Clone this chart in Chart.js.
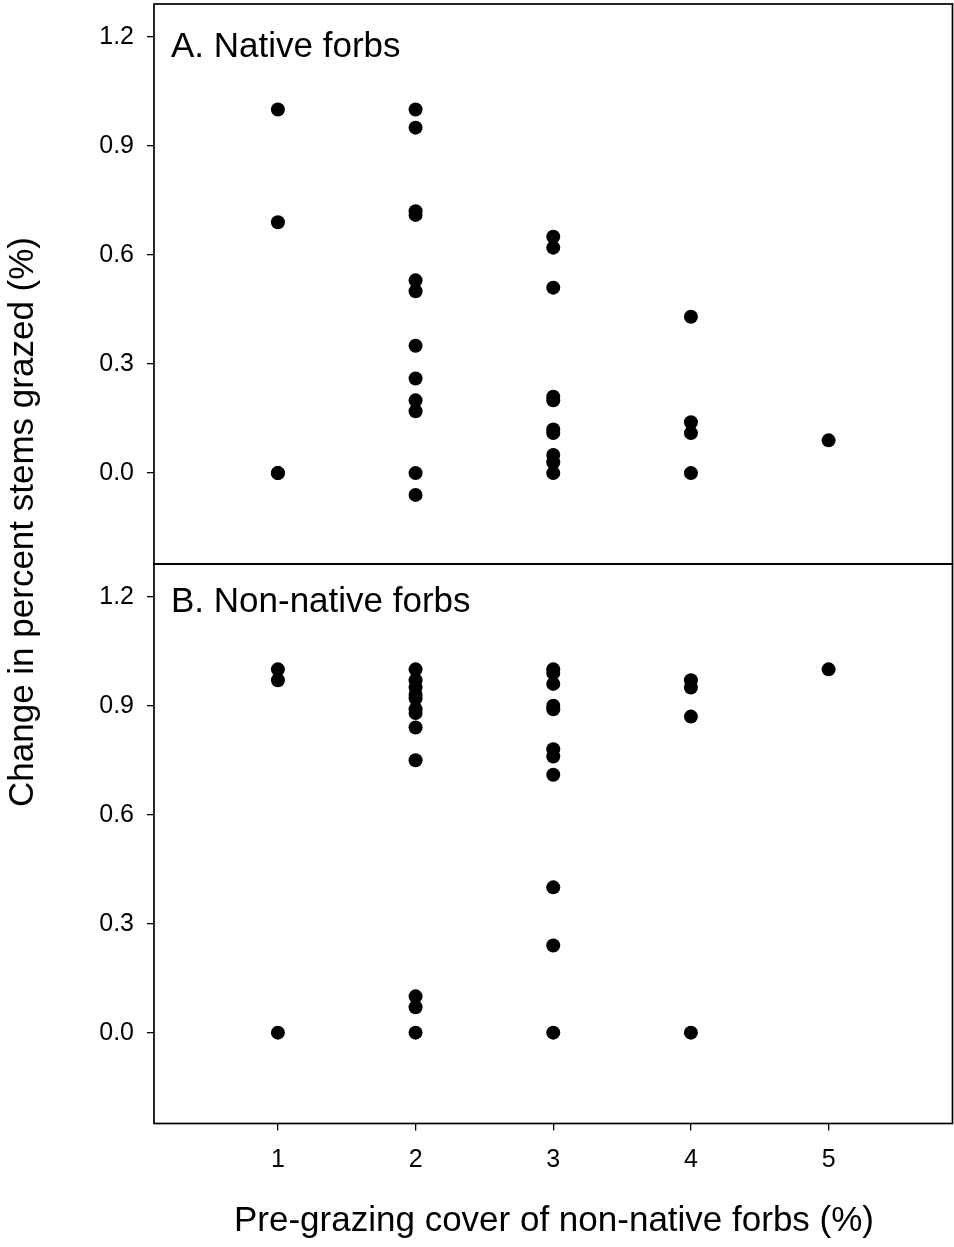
<!DOCTYPE html>
<html>
<head>
<meta charset="utf-8">
<script src="https://cdn.jsdelivr.net/npm/chart.js@4.4.0/dist/chart.umd.min.js"></script>
<style>
  html, body { margin: 0; padding: 0; background: #fff; }
  body { width: 954px; height: 1247px; position: relative; overflow: hidden; font-family: "Liberation Sans", Arial, sans-serif; }
  canvas { position: absolute; left: 0; }
  .lbl { position: absolute; font-size: 35px; line-height: 40px; height: 40px; color: #000; white-space: nowrap; }
</style>
</head>
<body>
<canvas id="cA" width="954" height="568" style="top:0px"></canvas>
<canvas id="cB" width="954" height="650" style="top:556px"></canvas>
<div class="lbl" id="labelA" style="left:171px; top:25px;"></div>
<div class="lbl" id="labelB" style="left:171px; top:580px;"></div>
<div class="lbl" id="xTitle" style="left:154px; width:800px; text-align:center; top:1199px;"></div>
<div class="lbl" id="yTitle" style="left:-379.5px; width:800px; text-align:center; top:502px; transform:rotate(-90deg);"></div>
<script>
// ---- text ----
const panelTitles = ["A. Native forbs", "B. Non-native forbs"];
const xAxisTitle = "Pre-grazing cover of non-native forbs (%)";
const yAxisTitle = "Change in percent stems grazed (%)";

// ---- ticks ----
const xTicks = [1, 2, 3, 4, 5];
const yTicks = [0.0, 0.3, 0.6, 0.9, 1.2];

// ---- Panel A: native forbs ----
const nativeCover = [
  1, 1, 1, 1,
  2, 2, 2, 2, 2, 2, 2, 2, 2, 2, 2, 2,
  3, 3, 3, 3, 3, 3, 3, 3, 3, 3,
  4, 4, 4, 4,
  5
];
const nativeChange = [
  1.00, 0.69, 0.00, 0.00,
  1.00, 0.95, 0.72, 0.71, 0.53, 0.50, 0.35, 0.26, 0.20, 0.17, 0.00, -0.06,
  0.65, 0.62, 0.51, 0.21, 0.20, 0.12, 0.11, 0.05, 0.03, 0.00,
  0.43, 0.14, 0.11, 0.00,
  0.09
];

// ---- Panel B: non-native forbs ----
const nonNativeCover = [
  1, 1, 1,
  2, 2, 2, 2, 2, 2, 2, 2, 2, 2, 2, 2,
  3, 3, 3, 3, 3, 3, 3, 3, 3, 3, 3,
  4, 4, 4, 4,
  5
];
const nonNativeChange = [
  1.00, 0.97, 0.00,
  1.00, 0.97, 0.95, 0.93, 0.92, 0.89, 0.88, 0.84, 0.75, 0.10, 0.07, 0.00,
  1.00, 0.99, 0.96, 0.90, 0.89, 0.78, 0.76, 0.71, 0.40, 0.24, 0.00,
  0.97, 0.95, 0.87, 0.00,
  1.00
];

document.getElementById('labelA').textContent = panelTitles[0];
document.getElementById('labelB').textContent = panelTitles[1];
document.getElementById('xTitle').textContent = xAxisTitle;
document.getElementById('yTitle').textContent = yAxisTitle;

const FONT = "'Liberation Sans', Arial, sans-serif";

const framePlugin = {
  id: 'frame',
  afterDraw(chart) {
    const a = chart.chartArea, ctx = chart.ctx;
    ctx.save();
    ctx.strokeStyle = '#000';
    ctx.lineWidth = 1.7;
    ctx.strokeRect(a.left, a.top, a.right - a.left, a.bottom - a.top);
    ctx.restore();
  }
};

function pts(xs, ys) { return xs.map((x, i) => ({ x: x, y: ys[i] })); }

function zeroPad(s) { s.paddingTop = 0; s.paddingBottom = 0; s.paddingLeft = 0; s.paddingRight = 0; }

function makeChart(id, xs, ys, showX, padding, xHeight) {
  return new Chart(document.getElementById(id), {
    type: 'scatter',
    data: {
      datasets: [{
        data: pts(xs, ys),
        backgroundColor: '#000',
        borderColor: '#000',
        borderWidth: 0,
        pointRadius: 7,
        pointHoverRadius: 7
      }]
    },
    options: {
      responsive: false,
      animation: false,
      events: [],
      layout: { padding: padding, autoPadding: false },
      plugins: { legend: { display: false }, tooltip: { enabled: false } },
      scales: {
        x: {
          type: 'linear',
          min: 0.1, max: 5.9,
          display: showX,
          afterBuildTicks(s) { s.ticks = xTicks.map(v => ({ value: v })); },
          afterFit(s) { if (showX) s.height = xHeight; zeroPad(s); },
          grid: { drawOnChartArea: false, drawTicks: true, tickLength: 7, color: '#000', lineWidth: 1.3 },
          border: { display: false },
          ticks: { color: '#000', font: { family: FONT, size: 25 }, padding: 15, maxRotation: 0,
                   callback: v => String(v) }
        },
        y: {
          type: 'linear',
          min: -0.25, max: 1.29,
          afterBuildTicks(s) { s.ticks = yTicks.map(v => ({ value: v })); },
          afterFit(s) { s.width = 154; zeroPad(s); },
          grid: { drawOnChartArea: false, drawTicks: true, tickLength: 7, color: '#000', lineWidth: 1.3 },
          border: { display: false },
          ticks: { color: '#000', font: { family: FONT, size: 25 }, padding: 13,
                   callback: v => Number(v).toFixed(1) }
        }
      }
    },
    plugins: [framePlugin]
  });
}

makeChart('cA', nativeCover, nativeChange, false, { top: 4, right: 1.5, bottom: 4, left: 0 }, 0);
makeChart('cB', nonNativeCover, nonNativeChange, true, { top: 8, right: 1.5, bottom: 0, left: 0 }, 82.5);
</script>
</body>
</html>
